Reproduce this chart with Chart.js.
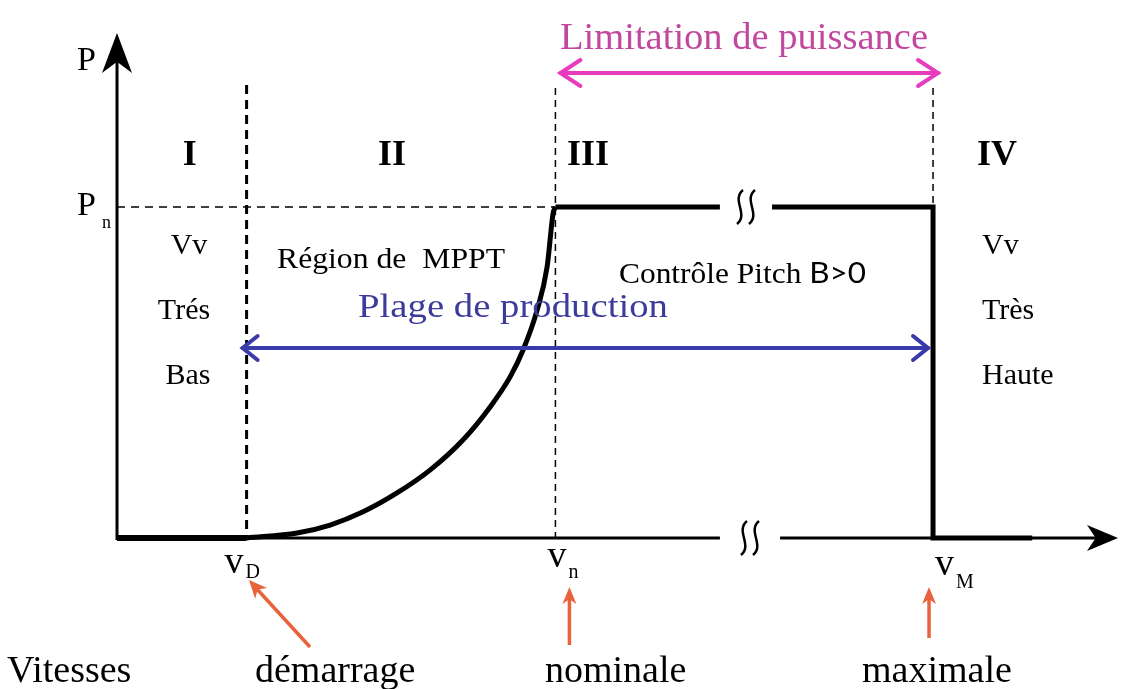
<!DOCTYPE html>
<html>
<head>
<meta charset="utf-8">
<script src="https://cdn.jsdelivr.net/npm/chart.js@4.4.1/dist/chart.umd.min.js"></script>
<style>
  html, body { margin: 0; padding: 0; background: #fff; }
  #wrap { width: 1126px; height: 689px; position: relative; }
</style>
</head>
<body>
<div id="wrap"><canvas id="c"></canvas></div>
<script>
const vD = 4.05;   // démarrage
const vN = 13.7;   // nominale
const vM = 25.5;   // maximale
const vFin = 28.6; // fin du trait épais après vM
const pN = 1;      // puissance nominale

// courbe de la région MPPT (P ~ v^3)
const mpptV = [4.05, 5.63, 6.66, 7.69, 8.75, 9.78, 10.81, 11.66, 12.28, 12.69, 13.13, 13.44, 13.63, 13.7];
const mpptP = [0, 0.015, 0.039, 0.079, 0.136, 0.205, 0.296, 0.396, 0.486, 0.568, 0.689, 0.819, 0.982, 1];

// coupures (≈) sur le palier Pn et sur l'axe des vitesses
const coupurePalier = [18.84, 20.47];
const coupureAxe = [18.84, 20.72];

// bornes des axes
const xMax = 31.28;
const yMax = 1.5257;

// textes
const zones = ['I', 'II', 'III', 'IV'];
const vitesses = [vD, vN, vM];
const vitesseIndices = ['D', 'n', 'M'];
const vitesseNoms = ['démarrage', 'nominale', 'maximale'];

const SERIF = "'Liberation Serif', 'Times New Roman', serif";

function pt(x, y) { return { x: x, y: y }; }

// texte étiré horizontalement pour tenir dans une largeur donnée
function texte(ctx, str, x, y, font, largeur) {
  ctx.font = font;
  const w = ctx.measureText(str).width;
  ctx.save();
  ctx.translate(x, y);
  ctx.scale(largeur ? largeur / w : 1, 1);
  ctx.fillText(str, 0, 0);
  ctx.restore();
}

// pointe de flèche ouverte (chevron)
function chevron(ctx, x, y, dir, len, half) {
  ctx.beginPath();
  ctx.moveTo(x - dir * len, y - half);
  ctx.lineTo(x, y);
  ctx.lineTo(x - dir * len, y + half);
  ctx.stroke();
}

// pointe pleine, ang = direction de la flèche
function pointe(ctx, x, y, ang, len, half) {
  const c = Math.cos(ang), s = Math.sin(ang);
  ctx.beginPath();
  ctx.moveTo(x, y);
  ctx.lineTo(x - c * len - s * half, y - s * len + c * half);
  ctx.lineTo(x - c * len * 0.72, y - s * len * 0.72);
  ctx.lineTo(x - c * len + s * half, y - s * len - c * half);
  ctx.closePath();
  ctx.fill();
}

// le petit signe ≀≀ de coupure
function vague(ctx, cx, cy) {
  ctx.save();
  ctx.lineWidth = 2.5;
  ctx.strokeStyle = '#000';
  [-6, 6].forEach(function (k) {
    ctx.beginPath();
    ctx.moveTo(cx + k + 3, cy - 17);
    ctx.bezierCurveTo(cx + k - 9, cy - 7, cx + k + 9, cy + 7, cx + k - 3, cy + 17);
    ctx.stroke();
  });
  ctx.restore();
}

const schema = {
  id: 'schema',
  beforeDatasetsDraw(chart) {
    const ctx = chart.ctx;
    const sx = chart.scales.x, sy = chart.scales.y;
    const x0 = sx.getPixelForValue(0), y0 = sy.getPixelForValue(0);
    const yPn = sy.getPixelForValue(pN);
    ctx.save();
    ctx.fillStyle = '#fff';
    ctx.fillRect(0, 0, chart.width, chart.height);

    // pointillés verticaux et horizontal
    ctx.strokeStyle = '#000';
    ctx.setLineDash([9, 6]);
    ctx.lineWidth = 3;
    const xd = sx.getPixelForValue(vD);
    ctx.beginPath(); ctx.moveTo(xd, 85); ctx.lineTo(xd, y0); ctx.stroke();
    ctx.setLineDash([7, 5]);
    ctx.lineWidth = 1.5;
    const xn = sx.getPixelForValue(vN);
    ctx.beginPath(); ctx.moveTo(xn, 88); ctx.lineTo(xn, y0); ctx.stroke();
    const xm = sx.getPixelForValue(vM);
    ctx.beginPath(); ctx.moveTo(xm, 88); ctx.lineTo(xm, yPn); ctx.stroke();
    ctx.setLineDash([8, 6]);
    ctx.beginPath(); ctx.moveTo(x0, yPn); ctx.lineTo(xn, yPn); ctx.stroke();
    ctx.setLineDash([]);

    // axe P
    ctx.lineWidth = 3;
    ctx.beginPath(); ctx.moveTo(x0, y0 + 2); ctx.lineTo(x0, sy.getPixelForValue(yMax) + 25); ctx.stroke();
    ctx.fillStyle = '#000';
    pointe(ctx, x0, sy.getPixelForValue(yMax), -Math.PI / 2, 40, 15);

    // axe des vitesses, avec coupure
    const xEnd = sx.getPixelForValue(xMax);
    ctx.beginPath();
    ctx.moveTo(x0, y0); ctx.lineTo(sx.getPixelForValue(coupureAxe[0]), y0);
    ctx.moveTo(sx.getPixelForValue(coupureAxe[1]), y0); ctx.lineTo(xEnd - 20, y0);
    ctx.stroke();
    pointe(ctx, xEnd, y0, 0, 31, 13);
    vague(ctx, (sx.getPixelForValue(coupureAxe[0]) + sx.getPixelForValue(coupureAxe[1])) / 2, y0);
    ctx.restore();
  },
  afterDatasetsDraw(chart) {
    const ctx = chart.ctx;
    const sx = chart.scales.x, sy = chart.scales.y;
    const x0 = sx.getPixelForValue(0);
    const yPn = sy.getPixelForValue(pN);
    const xd = sx.getPixelForValue(vD), xn = sx.getPixelForValue(vN), xm = sx.getPixelForValue(vM);
    ctx.save();

    vague(ctx, (sx.getPixelForValue(coupurePalier[0]) + sx.getPixelForValue(coupurePalier[1])) / 2, yPn);

    // P et Pn
    ctx.fillStyle = '#000';
    ctx.textBaseline = 'alphabetic';
    ctx.textAlign = 'left';
    ctx.font = '34px ' + SERIF;
    ctx.fillText('P', x0 - 40, 70);
    ctx.fillText('P', x0 - 40, yPn + 8);
    ctx.font = '18px ' + SERIF;
    ctx.fillText('n', x0 - 15, yPn + 21);

    // zones I à IV
    ctx.font = 'bold 36px ' + SERIF;
    ctx.textAlign = 'center';
    const zx = [(x0 + xd) / 2 + 8, 392, 588, 997];
    zones.forEach(function (z, i) { ctx.fillText(z, zx[i], 165); });

    // vitesse très basse / très haute
    ctx.font = '30px ' + SERIF;
    ctx.fillText('Vv', 189, 254);
    ctx.fillText('Trés', 184, 319);
    ctx.fillText('Bas', 188, 384);
    ctx.textAlign = 'left';
    ctx.fillText('Vv', 982, 254);
    ctx.fillText('Très', 982, 319);
    ctx.fillText('Haute', 982, 384);

    // régions
    texte(ctx, 'Région de  MPPT', 277, 268, '29px ' + SERIF, 228);
    // Contrôle Pitch B>0 (B>0 dans une police sans empattement)
    ctx.font = '29px ' + SERIF;
    const t1 = 'Contrôle Pitch ';
    const w1 = ctx.measureText(t1).width;
    ctx.font = '29px Lato, sans-serif';
    const w2 = ctx.measureText('B>0').width;
    const k = 247 / (w1 + w2);
    ctx.save();
    ctx.translate(619, 283);
    ctx.scale(k, 1);
    ctx.font = '29px ' + SERIF;
    ctx.fillText(t1, 0, 0);
    ctx.font = '29px Lato, sans-serif';
    ctx.fillText('B>0', w1, 0);
    ctx.restore();

    // plage de production
    ctx.fillStyle = '#3c3c9a';
    texte(ctx, 'Plage de production', 358, 317, '34px ' + SERIF, 310);
    ctx.strokeStyle = '#3a3aa8';
    ctx.lineWidth = 4;
    ctx.lineCap = 'round';
    ctx.beginPath(); ctx.moveTo(xd - 4, 348); ctx.lineTo(xm - 5, 348); ctx.stroke();
    chevron(ctx, xd - 4, 348, -1, 15, 12);
    chevron(ctx, xm - 5, 348, 1, 15, 12);

    // limitation de puissance
    ctx.fillStyle = '#c2479e';
    texte(ctx, 'Limitation de puissance', 560, 49, '38px ' + SERIF, 368);
    ctx.strokeStyle = '#e83cbe';
    ctx.beginPath(); ctx.moveTo(xn + 5, 73); ctx.lineTo(xm + 5, 73); ctx.stroke();
    chevron(ctx, xn + 5, 73, -1, 20, 13);
    chevron(ctx, xm + 5, 73, 1, 20, 13);

    // vD, vn, vM
    ctx.fillStyle = '#000';
    const vx = [xd - 22, xn - 8, xm + 2];
    const vb = [573, 567, 575];
    const ib = [578, 578, 588];
    vitesses.forEach(function (v, i) {
      ctx.font = '38px ' + SERIF;
      ctx.fillText('v', vx[i], vb[i]);
      const w = ctx.measureText('v').width;
      ctx.font = '20px ' + SERIF;
      ctx.fillText(vitesseIndices[i], vx[i] + w + 2, ib[i]);
    });

    // flèches orange
    ctx.strokeStyle = '#e8623c';
    ctx.fillStyle = '#e8623c';
    ctx.lineWidth = 3.5;
    ctx.lineCap = 'butt';
    ctx.beginPath(); ctx.moveTo(310, 647); ctx.lineTo(256, 588); ctx.stroke();
    pointe(ctx, 249, 580, Math.atan2(-67, -61), 18, 8);
    ctx.beginPath(); ctx.moveTo(xn + 14, 645); ctx.lineTo(xn + 14, 598); ctx.stroke();
    pointe(ctx, xn + 14, 587, -Math.PI / 2, 17, 7);
    ctx.beginPath(); ctx.moveTo(xm - 4, 638); ctx.lineTo(xm - 4, 598); ctx.stroke();
    pointe(ctx, xm - 4, 587, -Math.PI / 2, 17, 7);

    // noms des vitesses
    ctx.fillStyle = '#000';
    ctx.font = '38px ' + SERIF;
    ctx.fillText('Vitesses', 7, 682);
    const nx = [255, 545, 862];
    vitesseNoms.forEach(function (n, i) { ctx.fillText(n, nx[i], 682); });
    ctx.restore();
  }
};

const ligne = { borderColor: '#000', pointRadius: 0, fill: false, clip: false, borderJoinStyle: 'miter' };

new Chart(document.getElementById('c'), {
  type: 'line',
  data: {
    datasets: [
      Object.assign({ data: mpptV.map(function (v, i) { return pt(v, mpptP[i]); }),
        borderWidth: 5, cubicInterpolationMode: 'monotone' }, ligne),
      Object.assign({ data: [pt(0, 0), pt(vD, 0)], borderWidth: 6 }, ligne),
      Object.assign({ data: [pt(vN, pN), pt(coupurePalier[0], pN)], borderWidth: 5 }, ligne),
      Object.assign({ data: [pt(coupurePalier[1], pN), pt(vM, pN), pt(vM, 0), pt(vFin, 0)], borderWidth: 5 }, ligne)
    ]
  },
  options: {
    responsive: true,
    maintainAspectRatio: false,
    animation: false,
    events: [],
    layout: { padding: { left: 117, right: 8, top: 33, bottom: 151 } },
    scales: {
      x: { type: 'linear', min: 0, max: xMax, display: false },
      y: { type: 'linear', min: 0, max: yMax, display: false }
    },
    plugins: { legend: { display: false }, tooltip: { enabled: false } }
  },
  plugins: [schema]
});
</script>
</body>
</html>
